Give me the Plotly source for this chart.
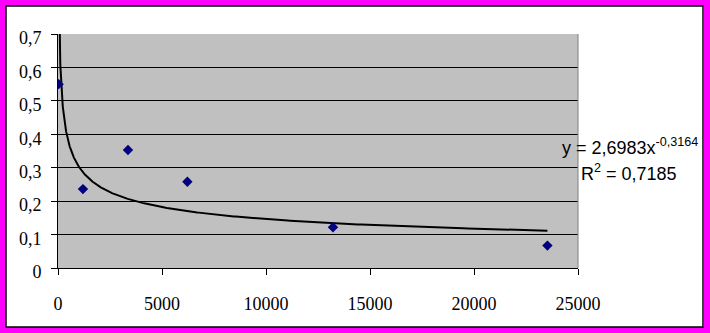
import numpy as np
import plotly.graph_objects as go

# Data
x_vals = [30, 1200, 3365, 6220, 13220, 23530]
y_vals = [0.550, 0.236, 0.353, 0.258, 0.122, 0.067]

# Power trendline coefficients shown on the chart
coef_a = 2.6983
coef_b = -0.3164
r_squared = "0,7185"

x_ticks = [0, 5000, 10000, 15000, 20000, 25000]
x_tick_text = ["0", "5000", "10000", "15000", "20000", "25000"]
y_ticks = [0, 0.1, 0.2, 0.3, 0.4, 0.5, 0.6, 0.7]
y_tick_text = ["0", "0,1", "0,2", "0,3", "0,4", "0,5", "0,6", "0,7"]

W, H = 710, 333
L, R, T, B = 58, 578, 34, 268


def px(xp):
    return (xp - L) / (R - L)


def py(yp):
    return (B - yp) / (B - T)


trend_x = np.geomspace(min(x_vals), max(x_vals), 600)
trend_y = coef_a * trend_x ** coef_b

fig = go.Figure()
fig.add_trace(go.Scatter(x=trend_x, y=trend_y, mode="lines",
                         line=dict(color="black", width=2), hoverinfo="skip"))
fig.add_trace(go.Scatter(x=x_vals, y=y_vals, mode="markers",
                         marker=dict(symbol="diamond", size=8, color="#000080")))

tick_font = dict(family="'Liberation Serif', 'Times New Roman', serif", size=18, color="black")
fig.update_xaxes(range=[0, 25000], tickvals=x_ticks, ticktext=x_tick_text,
                 showgrid=False, zeroline=False, showline=True, linecolor="black",
                 linewidth=1, ticks="outside", ticklen=6, tickcolor="black",
                 tickfont=tick_font, ticklabelstandoff=13)
fig.update_yaxes(range=[0, 0.7], tickvals=y_ticks, ticktext=y_tick_text,
                 showgrid=True, gridcolor="black", gridwidth=1, zeroline=False,
                 showline=True, linecolor="black", linewidth=1, ticks="outside",
                 ticklen=6, tickcolor="black", tickfont=tick_font,
                 ticklabelstandoff=6, ticklabelshift=4)

shapes = [
    dict(type="line", xref="paper", yref="paper", x0=1, x1=1, y0=0, y1=1,
         line=dict(color="#808080", width=1)),
    dict(type="rect", xref="paper", yref="paper", x0=px(3), x1=px(707),
         y0=py(330), y1=py(3), line=dict(color="#FF00FF", width=6)),
    dict(type="rect", xref="paper", yref="paper", x0=px(6), x1=px(703),
         y0=py(327), y1=py(6), line=dict(color="black", width=1.5)),
]

ann_font = dict(family="'Liberation Sans', Arial, sans-serif", size=18, color="black")
annotations = [
    dict(xref="paper", yref="paper", x=px(560), y=py(146), xanchor="left",
         yanchor="middle", showarrow=False, font=ann_font,
         text=f"y = {str(coef_a).replace('.', ',')}x<sup>{str(coef_b).replace('.', ',')}</sup>"),
    dict(xref="paper", yref="paper", x=px(579), y=py(172), xanchor="left",
         yanchor="middle", showarrow=False, font=ann_font,
         text=f"R<sup>2</sup> = {r_squared}"),
]

fig.update_layout(width=W, height=H, margin=dict(l=L, r=W - R, t=T, b=H - B),
                  paper_bgcolor="white", plot_bgcolor="#C0C0C0",
                  showlegend=False, shapes=shapes, annotations=annotations)

fig.write_html("out.html", config={"displayModeBar": False},
               post_script="document.body.style.margin='0';document.body.style.overflow='hidden';")
